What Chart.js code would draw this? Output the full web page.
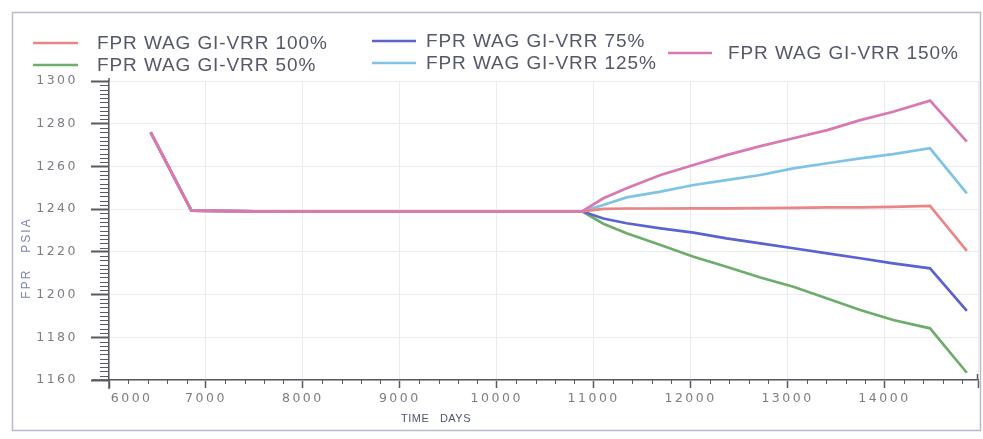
<!DOCTYPE html>
<html>
<head>
<meta charset="utf-8">
<script src="https://cdn.jsdelivr.net/npm/chart.js@4.4.1/dist/chart.umd.min.js"></script>
<style>
  html, body { margin: 0; padding: 0; background: #ffffff; }
  #wrap { width: 983px; height: 439px; }
</style>
</head>
<body>
<div id="wrap"><canvas id="c" width="983" height="439"></canvas></div>
<script>
// Shared history before the VRR cases split (days, psia)
const historyDays = [6430, 6850, 7500, 8500, 9500, 10500, 10880];
const historyFpr  = [1276, 1239.3, 1239, 1238.9, 1238.9, 1238.9, 1239];

// Forecast period, common time axis for every case (days)
const forecastDays = [10880, 11100, 11340, 11690, 12030, 12370, 12720, 13060, 13410, 13750, 14090, 14470, 14850];

// Field pressure per gas-injection voidage replacement ratio (psia)
const fpr100 = [1239, 1240.1, 1240.3, 1240.3, 1240.4, 1240.4, 1240.5, 1240.6, 1240.8, 1240.8, 1241.1, 1241.5, 1220.5];
const fpr50  = [1239, 1233.2, 1228.7, 1223.2, 1217.7, 1213.0, 1208.0, 1203.7, 1198.2, 1192.8, 1188.1, 1184.2, 1163.4];
const fpr75  = [1239, 1235.6, 1233.4, 1231.0, 1229.0, 1226.3, 1224.0, 1221.7, 1219.3, 1217.0, 1214.6, 1212.3, 1192.4];
const fpr125 = [1239, 1241.9, 1245.5, 1248.2, 1251.3, 1253.6, 1256.0, 1259.1, 1261.5, 1263.8, 1265.8, 1268.5, 1247.4];
const fpr150 = [1239, 1245.1, 1249.8, 1256.0, 1260.7, 1265.3, 1269.5, 1273.2, 1277.0, 1281.7, 1285.6, 1290.8, 1271.6];

const seriesNames = ['FPR WAG GI-VRR 100%', 'FPR WAG GI-VRR 50%', 'FPR WAG GI-VRR 75%', 'FPR WAG GI-VRR 125%', 'FPR WAG GI-VRR 150%'];
const seriesColors = ['#e98686', '#6dae6b', '#5b63cf', '#7fc4e6', '#d978b2'];

// Axis ranges and tick labels
const xRange = [6000, 14965];
const xTickLabels = [6000, 7000, 8000, 9000, 10000, 11000, 12000, 13000, 14000];
const yRange = [1160, 1300];
const yTickLabels = [1160, 1180, 1200, 1220, 1240, 1260, 1280, 1300];

function buildPoints(values) {
  const pts = historyDays.map((d, i) => ({ x: d, y: historyFpr[i] }));
  forecastDays.forEach((d, i) => { if (i > 0) pts.push({ x: d, y: values[i] }); });
  return pts;
}

const allSeries = [fpr100, fpr50, fpr75, fpr125, fpr150];
// 150% case sits on top of the shared history
const drawOrder = [1, 5, 4, 3, 0];
const datasets = allSeries.map((vals, i) => ({
  label: seriesNames[i],
  data: buildPoints(vals),
  borderColor: seriesColors[i],
  backgroundColor: seriesColors[i],
  borderWidth: 2.7,
  pointRadius: 0,
  tension: 0,
  order: drawOrder[i]
}));

// Tick labels are drawn letter-spaced
const spacingPlugin = {
  id: 'spacing',
  beforeDraw(chart) { chart.ctx.letterSpacing = '2.5px'; },
  afterDatasetsDraw(chart) { chart.ctx.letterSpacing = '0px'; }
};

// Minor ticks, axis-line overhangs, axis titles, legend and frame
const decorPlugin = {
  id: 'decor',
  afterDraw(chart) {
    const ctx = chart.ctx;
    const xs = chart.scales.x, ys = chart.scales.y;
    const area = chart.chartArea;
    ctx.save();
    ctx.strokeStyle = '#5a5a60';
    ctx.lineWidth = 1;
    // y minor ticks every 2 psia
    for (let v = yRange[0]; v <= yRange[1]; v += 2) {
      if (v % 20 === 0) continue;
      const py = Math.round(ys.getPixelForValue(v)) + 0.5;
      ctx.beginPath(); ctx.moveTo(area.left - 9, py); ctx.lineTo(area.left, py); ctx.stroke();
    }
    // x minor ticks every 200 days
    for (let v = 6200; v < xRange[1]; v += 200) {
      if (v % 1000 === 0) continue;
      const px = Math.round(xs.getPixelForValue(v)) + 0.5;
      ctx.beginPath(); ctx.moveTo(px, area.bottom); ctx.lineTo(px, area.bottom + 4); ctx.stroke();
    }
    // overhanging axis lines
    ctx.lineWidth = 1.5;
    ctx.beginPath(); ctx.moveTo(area.left - 17, area.bottom); ctx.lineTo(area.left, area.bottom); ctx.stroke();
    ctx.beginPath(); ctx.moveTo(area.left, area.top - 3); ctx.lineTo(area.left, area.top); ctx.stroke();
    ctx.beginPath(); ctx.moveTo(area.left, area.bottom); ctx.lineTo(area.left, area.bottom + 9); ctx.stroke();
    ctx.beginPath(); ctx.moveTo(area.right - 0.5, area.bottom); ctx.lineTo(area.right - 0.5, area.bottom - 6); ctx.stroke();

    // axis titles
    ctx.fillStyle = '#4f546e';
    ctx.font = '11px "Liberation Sans", Arial, sans-serif';
    ctx.letterSpacing = '0.5px';
    ctx.textAlign = 'center';
    ctx.textBaseline = 'middle';
    ctx.fillText('TIME   DAYS', 436, 419);
    ctx.save();
    ctx.translate(27, 258);
    ctx.rotate(-Math.PI / 2);
    ctx.fillStyle = '#7c82b8';
    ctx.font = '12px "Liberation Sans", Arial, sans-serif';
    ctx.letterSpacing = '2px';
    ctx.fillText('FPR   PSIA', 0, 0);
    ctx.restore();

    // legend: two rows in the first two columns, one centred entry in the third
    const legendSlots = [
      { line: [33, 78], text: 97, y: 43 },
      { line: [33, 78], text: 97, y: 65 },
      { line: [372, 416], text: 426, y: 41 },
      { line: [372, 416], text: 426, y: 63 },
      { line: [668, 712], text: 728, y: 53 }
    ];
    const legendSeries = [0, 1, 2, 3, 4];
    ctx.font = '19px "Liberation Sans", Arial, sans-serif';
    ctx.letterSpacing = '0.9px';
    ctx.textAlign = 'left';
    legendSeries.forEach((s, i) => {
      const slot = legendSlots[i];
      ctx.strokeStyle = seriesColors[s];
      ctx.lineWidth = 2.5;
      ctx.beginPath(); ctx.moveTo(slot.line[0], slot.y); ctx.lineTo(slot.line[1], slot.y); ctx.stroke();
      ctx.fillStyle = '#55586a';
      ctx.fillText(seriesNames[s], slot.text, slot.y + 1);
    });

    // outer frame
    ctx.letterSpacing = '0px';
    ctx.strokeStyle = '#b7bacb';
    ctx.lineWidth = 1.5;
    ctx.strokeRect(12.5, 12.5, 968, 418);
    ctx.restore();
  }
};

new Chart(document.getElementById('c'), {
  type: 'line',
  data: { datasets },
  options: {
    responsive: false,
    animation: false,
    events: [],
    layout: { padding: { left: 0, right: 5, top: 81, bottom: 0 } },
    plugins: { legend: { display: false }, title: { display: false }, tooltip: { enabled: false } },
    scales: {
      x: {
        type: 'linear',
        min: xRange[0],
        max: xRange[1],
        afterFit(scale) { scale.height = 59; },
        afterBuildTicks(scale) {
          scale.ticks = xTickLabels.map(v => ({ value: v })).concat([{ value: xRange[1] }]);
        },
        ticks: {
          color: '#7d7d84',
          font: { family: '"DejaVu Sans", sans-serif', size: 12.5 },
          padding: 3,
          maxRotation: 0,
          autoSkip: false,
          // the first label sits just right of the axis origin
          callback: v => (v === xRange[0] ? '       ' + v : (xTickLabels.includes(v) ? String(v) : ''))
        },
        grid: { color: '#e9ebf1', lineWidth: 1, tickColor: '#5a5a60', tickLength: 8, tickWidth: 1.5 },
        border: { color: '#5a5a60', width: 1.5 }
      },
      y: {
        min: yRange[0],
        max: yRange[1],
        afterFit(scale) { scale.width = 109; },
        afterBuildTicks(scale) {
          scale.ticks = yTickLabels.map(v => ({ value: v }));
        },
        ticks: {
          color: '#7d7d84',
          font: { family: '"DejaVu Sans", sans-serif', size: 12.5 },
          padding: 13,
          autoSkip: false,
          callback: v => String(v)
        },
        grid: { color: '#e9ebf1', lineWidth: 1, tickColor: '#5a5a60', tickLength: 18, tickWidth: 2 },
        border: { color: '#5a5a60', width: 1.5 }
      }
    }
  },
  plugins: [spacingPlugin, decorPlugin]
});
</script>
</body>
</html>
